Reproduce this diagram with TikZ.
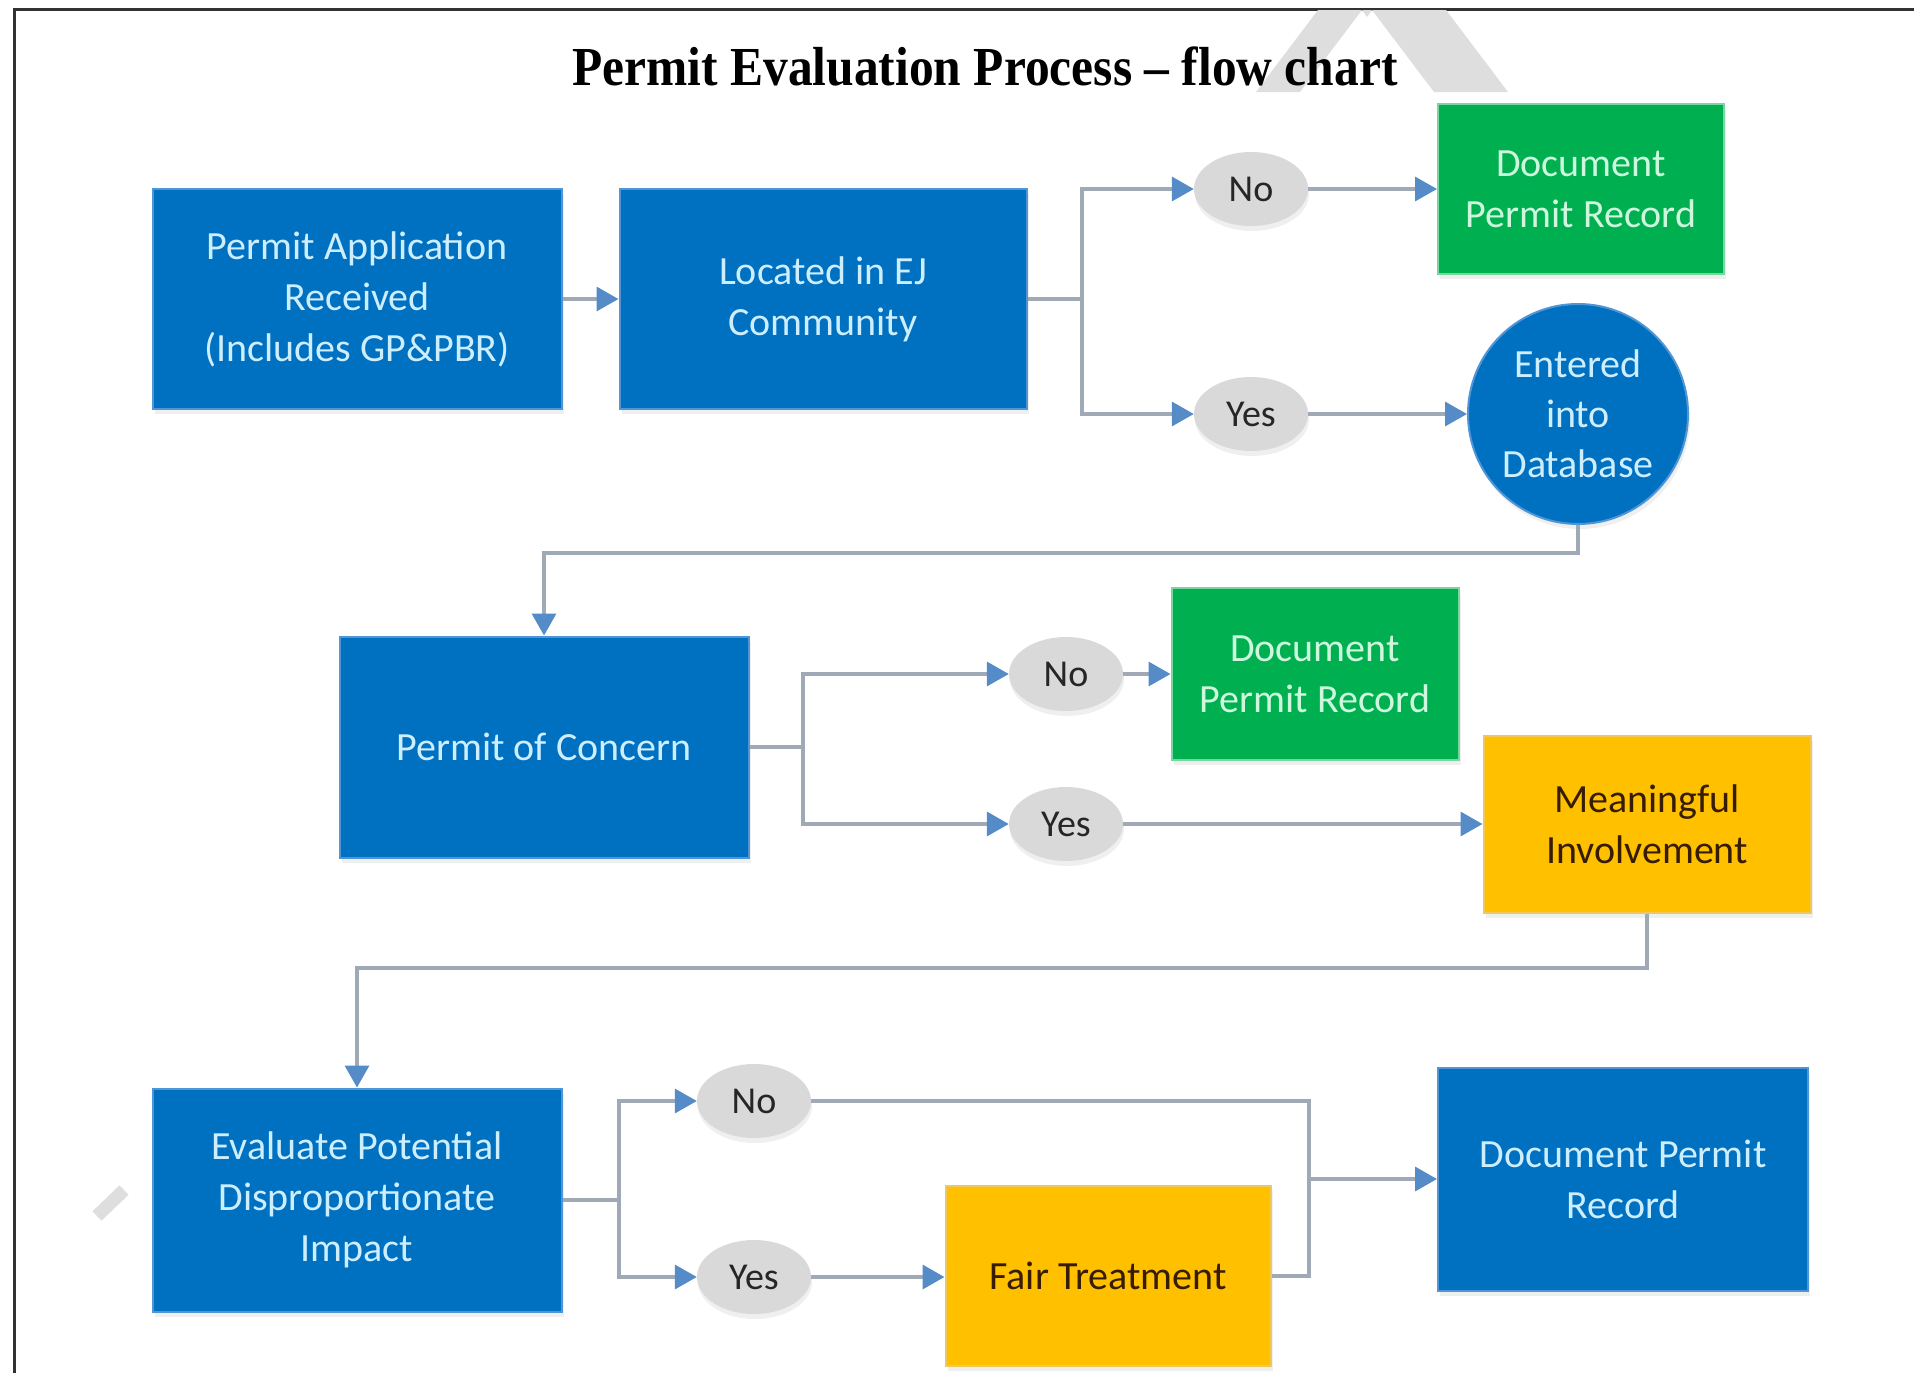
\documentclass[tikz,border=0pt]{standalone}
\usepackage{fontspec}
\usepackage{graphicx}
\usetikzlibrary{arrows.meta,shadows,shapes.geometric}
\setmainfont{Carlito}
\newfontfamily\titlefont{Liberation Serif}
\definecolor{boxblue}{RGB}{0,112,192}
\definecolor{blueedge}{RGB}{80,150,215}
\definecolor{bluetext}{RGB}{205,238,255}
\definecolor{boxgreen}{RGB}{0,176,80}
\definecolor{greenedge}{RGB}{120,215,160}
\definecolor{greentext}{RGB}{205,248,222}
\definecolor{boxyellow}{RGB}{255,192,0}
\definecolor{yellowedge}{RGB}{240,200,90}
\definecolor{yellowtext}{RGB}{55,28,0}
\definecolor{pillgray}{RGB}{217,217,217}
\definecolor{wiregray}{RGB}{160,170,182}
\definecolor{tipblue}{RGB}{85,140,200}
\definecolor{wmgray}{RGB}{222,222,222}
\definecolor{framegray}{RGB}{50,50,50}
\tikzset{
  pbox/.style={rectangle, inner sep=0pt, align=center, line width=2pt,
    font=\fontsize{40}{51}\selectfont,
    drop shadow={opacity=0.12, shadow xshift=2pt, shadow yshift=-5pt}},
  bluebox/.style={pbox, fill=boxblue, draw=blueedge, text=bluetext},
  greenbox/.style={pbox, fill=boxgreen, draw=greenedge, text=greentext},
  yellowbox/.style={pbox, fill=boxyellow, draw=yellowedge, text=yellowtext},
  pill/.style={ellipse, fill=pillgray, inner sep=0pt, minimum width=114pt,
    minimum height=74pt, font=\fontsize{38}{44}\selectfont, text=black!85,
    drop shadow={opacity=0.12, shadow xshift=1pt, shadow yshift=-5pt}},
  wire/.style={draw=wiregray, line width=3.5pt},
  conn/.style={wire, -{Triangle[length=22pt, width=24pt, color=tipblue]}}
}
\begin{document}
\begin{tikzpicture}[x=1pt, y=-1pt]
\useasboundingbox (0,0) rectangle (1914,1373);
\fill[white] (0,0) rectangle (1914,1373);
% frame
\draw[framegray, line width=3pt] (14,1373) -- (14,9) -- (1914,9);
% watermark fragments
\fill[wmgray] (1318,10) -- (1362,10) -- (1300,92) -- (1256,92) -- cycle;
\fill[wmgray] (1362,10) -- (1372,10) -- (1367,17) -- cycle;
\fill[wmgray] (1372,10) -- (1446,10) -- (1508,92) -- (1434,92) -- cycle;
\draw[wmgray, line width=13pt] (97,1216) -- (124,1190);
% title
\node[anchor=base] (title) at (985,85)
  {\scalebox{0.9}[1]{\titlefont\bfseries\fontsize{55}{60}\selectfont Permit Evaluation Process – flow chart}};
% row 1
\node[bluebox, minimum width=409pt, minimum height=220pt] (A) at (357,299)
  {Permit Application\\Received\\(Includes GP\&PBR)};
\node[bluebox, minimum width=407pt, minimum height=220pt] (B) at (823,299)
  {Located in EJ\\Community};
\node[pill] (No1) at (1251,189) {No};
\node[pill] (Yes1) at (1251,414) {Yes};
\node[greenbox, minimum width=286pt, minimum height=170pt] (G1) at (1581,189)
  {Document\\Permit Record};
\node[circle, fill=boxblue, draw=blueedge, line width=2pt, minimum size=220pt,
  inner sep=0pt, align=center, text=bluetext, font=\fontsize{40}{50}\selectfont,
  drop shadow={opacity=0.12, shadow xshift=2pt, shadow yshift=-5pt}] (DB) at (1578,414)
  {Entered\\into\\Database};
% row 2
\node[bluebox, minimum width=409pt, minimum height=221pt] (C) at (544,747)
  {Permit of Concern};
\node[pill] (No2) at (1066,674) {No};
\node[pill] (Yes2) at (1066,824) {Yes};
\node[greenbox, minimum width=287pt, minimum height=172pt] (G2) at (1315,674)
  {Document\\Permit Record};
\node[yellowbox, minimum width=327pt, minimum height=177pt] (Y1) at (1647,824)
  {Meaningful\\Involvement};
% row 3
\node[bluebox, minimum width=409pt, minimum height=223pt] (D) at (357,1200)
  {Evaluate Potential\\Disproportionate\\Impact};
\node[pill] (No3) at (754,1101) {No};
\node[pill] (Yes3) at (754,1277) {Yes};
\node[yellowbox, minimum width=325pt, minimum height=180pt] (Y2) at (1108,1276)
  {Fair Treatment};
\node[bluebox, minimum width=370pt, minimum height=223pt] (E) at (1623,1179)
  {Document Permit\\Record};
% connectors row 1
\coordinate (j1) at (1082,299);
\draw[conn] (A.east) -- (B.west);
\draw[wire] (B.east) -- (j1);
\draw[conn] (j1) |- (No1.west);
\draw[conn] (j1) |- (Yes1.west);
\draw[conn] (No1.east) -- (No1.east -| G1.west);
\draw[conn] (Yes1.east) -- (DB.west);
\coordinate (r1) at (1000,553);
\draw[conn] (DB.south) |- (r1) -| (C.north);
% connectors row 2
\coordinate (j2) at (803,747);
\draw[wire] (C.east) -- (j2);
\draw[conn] (j2) |- (No2.west);
\draw[conn] (j2) |- (Yes2.west);
\draw[conn] (No2.east) -- (G2.west);
\draw[conn] (Yes2.east) -- (Y1.west);
\coordinate (r2) at (1000,968);
\draw[conn] (Y1.south) |- (r2) -| (D.north);
% connectors row 3
\coordinate (j3) at (619,1200);
\draw[wire] (D.east) -- (j3);
\draw[conn] (j3) |- (No3.west);
\draw[conn] (j3) |- (Yes3.west);
\draw[conn] (Yes3.east) -- (Yes3.east -| Y2.west);
\coordinate (m) at (1309,1179);
\draw[wire] (No3.east) -| (m);
\draw[wire] (Y2.east) -| (m);
\draw[conn] (m) -- (E.west);
\end{tikzpicture}
\end{document}
